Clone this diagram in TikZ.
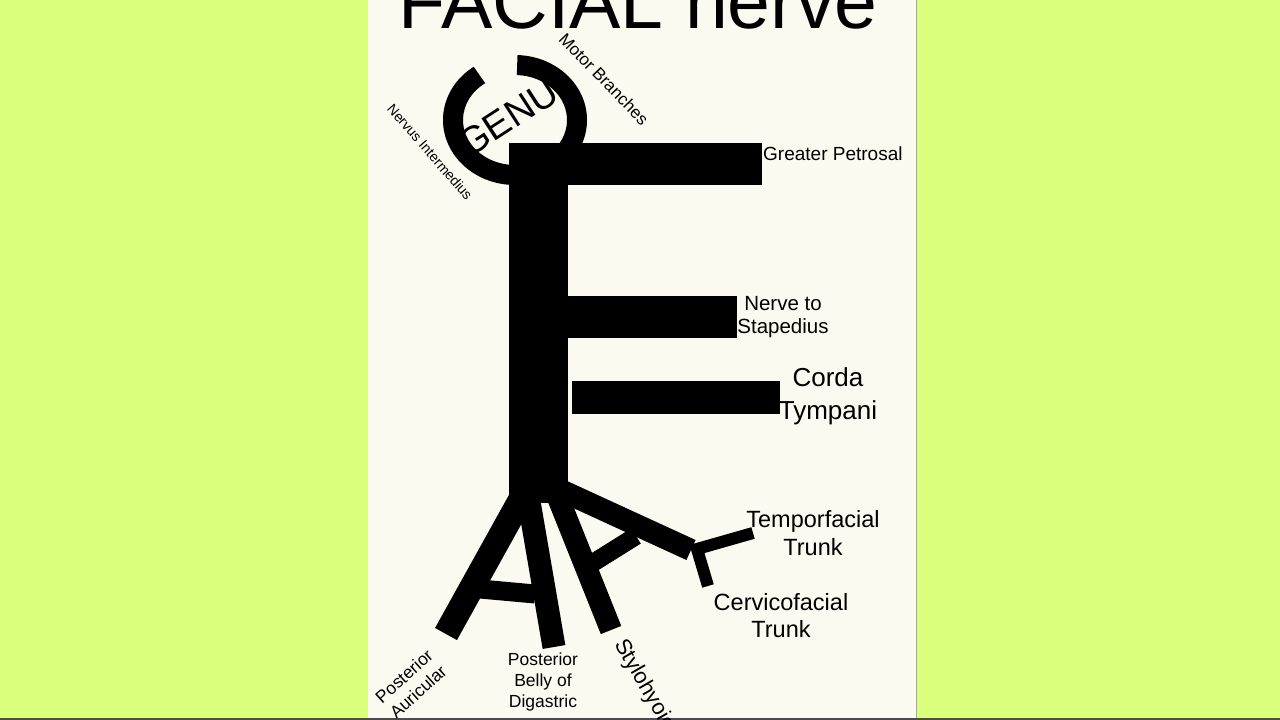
\documentclass[tikz,border=0pt]{standalone}
\usepackage{fontspec}
\setmainfont{Liberation Sans}
\usetikzlibrary{calc}

\definecolor{limebg}{RGB}{218,255,125}
\definecolor{paper}{RGB}{250,250,240}

\begin{document}
\begin{tikzpicture}[x=1pt, y=-1pt,
  branch/.style={draw=black, line width=#1},
  lbl/.style 2 args={inner sep=0pt, align=center, font=\fontsize{#1}{#2}\selectfont},
]
\useasboundingbox (0,0) rectangle (1280,720);
\fill[limebg] (0,0) rectangle (1280,720);
\fill[paper] (368,0) rectangle (916,720);
\draw[black!35, line width=1.5pt] (916.5,0) -- (916.5,720);
\draw[black!70, line width=2pt] (0,719) -- (1280,719);

% genu ring
\coordinate (genuc) at (515,120);
\fill (genuc) ++(-125:72 and 65) arc[start angle=-125, end angle=-448, x radius=72, y radius=65]
  -- ($(genuc)+(-448:52 and 45)$) arc[start angle=-448, end angle=-125, x radius=52, y radius=45] -- cycle;

% trunk and side branches
\fill (509,143) rectangle (568,503);
\fill (509,143) rectangle (762,185);
\fill (568,296) rectangle (737,338);
\fill (572,381) rectangle (780,414);

% terminal branches
\draw[branch=25] (526,490) -- (446,634);
\draw[branch=23] (527,490) -- (554,647);
\draw[branch=19] (480,589) -- (535,594);
\draw[branch=22] (555,490) -- (611,630);
\draw[branch=22] (556,488) -- (691,550);
\draw[branch=18] (588,566) -- (636,536);
\draw[branch=12, line join=miter] (753,533) -- (697,549) -- (708,586);

\node[lbl={77}{90}, anchor=base] (title) at (638,28) {FACIAL nerve};
\node[lbl={38}{44}, rotate=33] (genu) at (508,118) {GENU};
\node[lbl={17}{20}, rotate=-46] (motor) at (604,79) {Motor Branches};
\node[lbl={14}{17}, rotate=-49] (interm) at (430,152) {Nervus Intermedius};
\node[lbl={19}{23}, anchor=base west] (petrosal) at (763,160) {Greater Petrosal};
\node[lbl={20.5}{23}] (stapedius) at (783,317) {Nerve to\\Stapedius};
\node[lbl={26}{33}] (corda) at (828,396) {Corda\\Tympani};
\node[lbl={23.5}{28}] (temporo) at (813,533) {Temporfacial\\Trunk};
\node[lbl={23.5}{27}] (cervico) at (781,616) {Cervicofacial\\Trunk};
\node[lbl={17.5}{21}] (digastric) at (543,682) {Posterior\\Belly of\\Digastric};
\node[lbl={17.5}{21}, rotate=42] (auricular) at (411,684) {Posterior\\Auricular};
\node[lbl={22}{26}, rotate=-60, anchor=west] (stylohyoid) at (619,641) {Stylohyoid};
\end{tikzpicture}
\end{document}
